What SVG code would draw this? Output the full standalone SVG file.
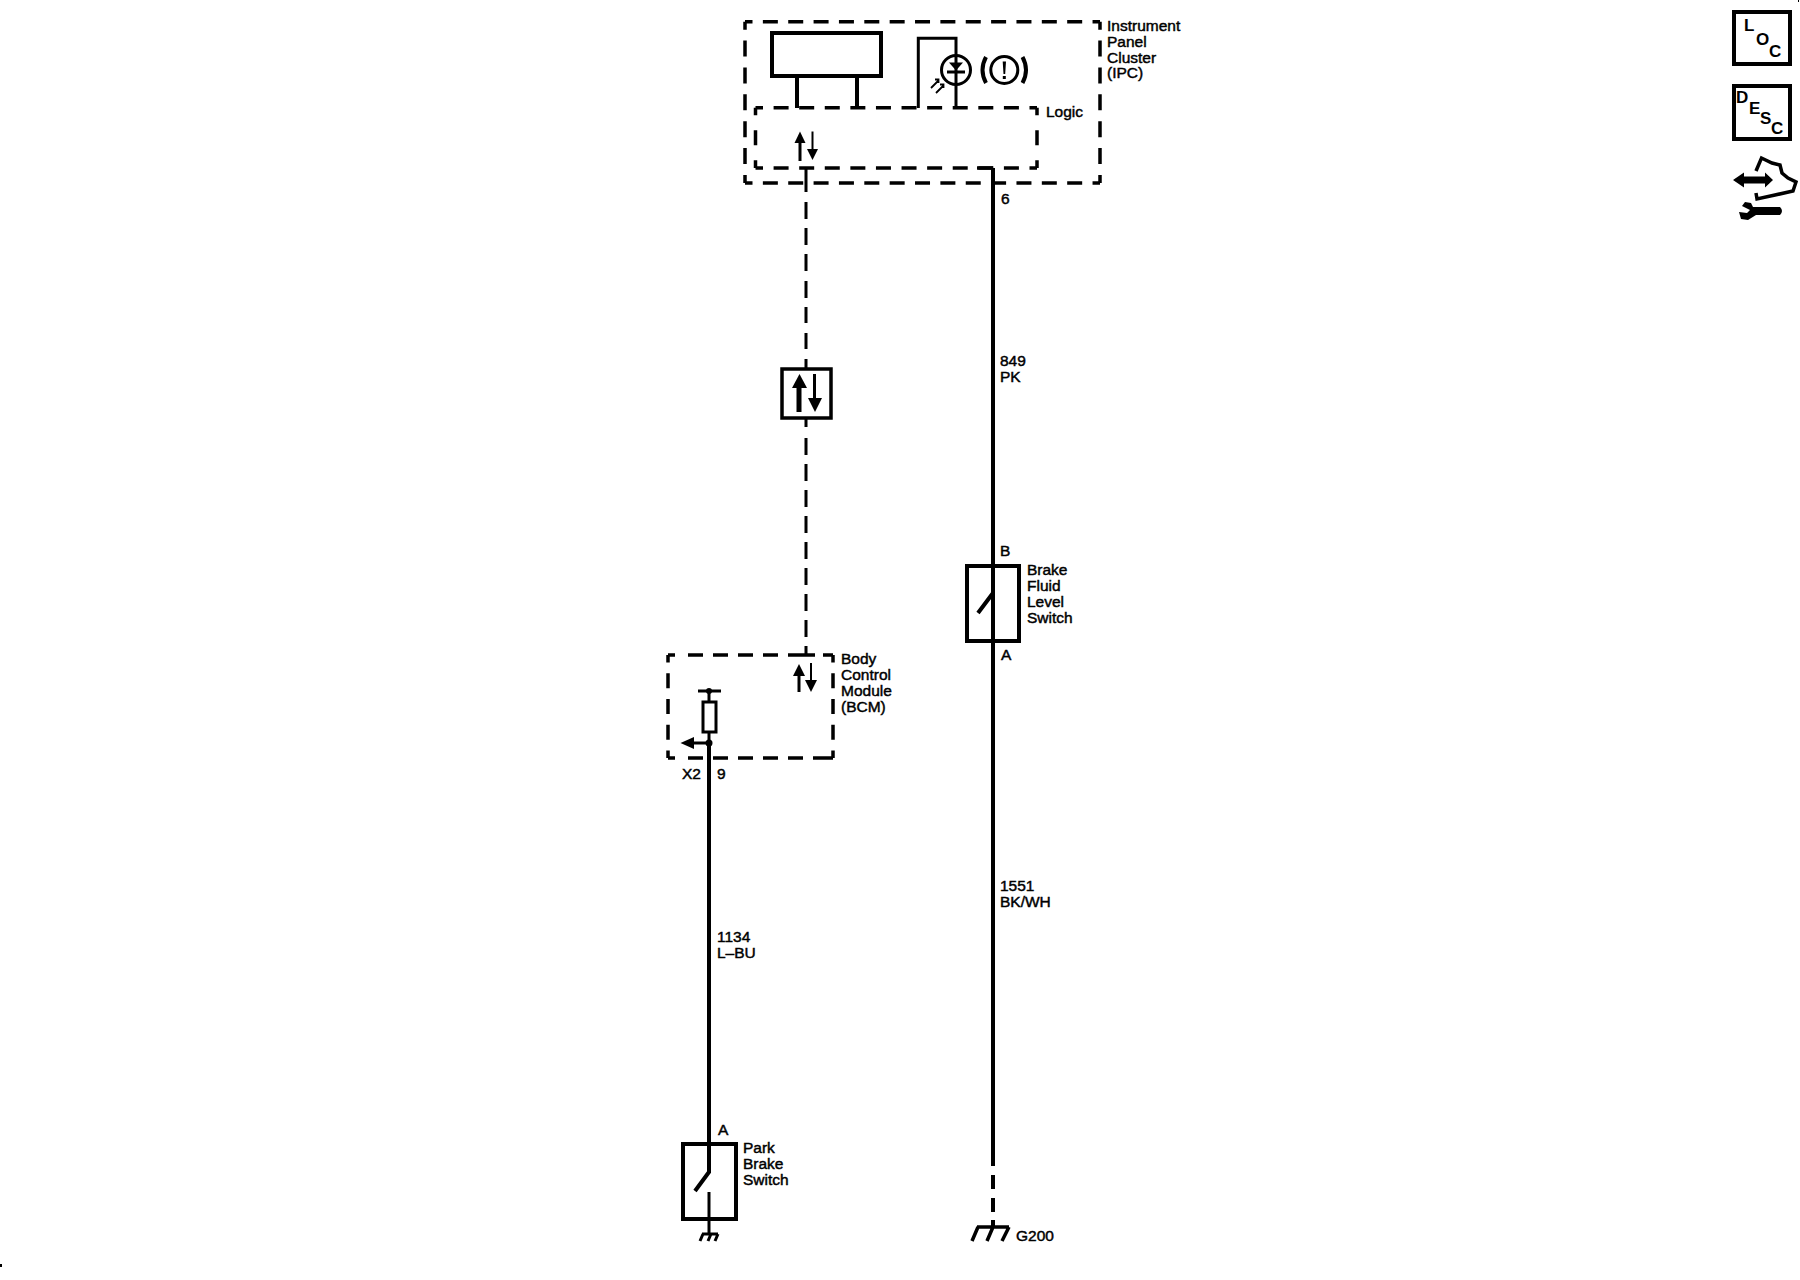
<svg xmlns="http://www.w3.org/2000/svg" width="1800" height="1280" viewBox="0 0 1800 1280">
<style>
text{font-family:"Liberation Sans",Arial,sans-serif;font-size:15.5px;fill:#000;stroke:#000;stroke-width:.45px}
.i{font-size:17px;font-weight:bold;stroke:none}
.w,.t,.d,.b,.f{fill:none;stroke:#000;stroke-linejoin:miter}
.w{stroke-width:4}
.t{stroke-width:3}
.d{stroke-width:3.500}
.b{stroke-width:4}
.k{fill:#000;stroke:none}
</style>
<rect width="1800" height="1280" fill="#fff"/>
<g id="connectors">
<path class="w" d="M993 168V1166"/>
<path class="w" d="M993 1175V1189M993 1198V1212M993 1220V1228"/>
<path class="d" d="M977 168H993"/>
<path class="t" d="M806 168V192M806 202V219M806 228V245M806 254V271M806 281V298M806 307V323M806 333V349M806 359V369"/>
<path class="t" d="M806 418V427M806 438V455M806 464V481M806 490V507M806 516V533M806 542V559M806 568V585M806 594V611M806 620V637M806 646V655"/>
<path class="w" d="M709 743V1143"/>
</g>
<g id="ipc">
<path class="d" stroke-dasharray="15 10.360" stroke-dashoffset="7.500" d="M745 21.700H1100M745 183H1100"/>
<path class="d" stroke-dasharray="16 10.880" stroke-dashoffset="8" d="M745 21.700V183M1100 21.700V183"/>
<rect class="b" x="772" y="33" width="109" height="43"/>
<path class="b" d="M797 76V108M857 76V108"/>
<path class="t" d="M918.300 108V38.300H956V108"/>
<circle class="f" cx="956" cy="70" r="14.500" stroke-width="3"/>
<path class="k" d="M949 62.500H963L956 70.500Z"/>
<path class="t" d="M947 72H965"/>
<g fill="none" stroke="#000" stroke-width="1.800"><path d="M931 88L938 81M936 93L943 86M935 79.500H938.500V83M940 84.500H943.500V88"/></g>
<circle class="f" cx="1004.300" cy="70" r="13.500" stroke-width="3"/>
<path class="k" d="M1002.700 61.500H1006L1005.200 74H1003.500ZM1002.800 76H1005.800V79H1002.800Z"/>
<path class="f" stroke-width="4" d="M986 57Q979 70 986 83M1022.500 57Q1029.500 70 1022.500 83"/>
<text x="1107" y="31">Instrument</text>
<text x="1107" y="47">Panel</text>
<text x="1107" y="63">Cluster</text>
<text x="1107" y="78">(IPC)</text>
</g>
<g id="logic">
<path class="d" stroke-dasharray="15 10.590" stroke-dashoffset="7.500" d="M755.500 107.700H1037M755.500 168H1037"/>
<path class="d" stroke-dasharray="15 15" stroke-dashoffset="7.500" d="M755.500 107.700V168M1037 107.700V168"/>
<path class="t" d="M800 161V140"/>
<path class="k" d="M800 131.500L805.500 143H794.500Z"/>
<path class="t" d="M812.500 131.500V152" style="stroke-width:2"/>
<path class="k" d="M812.500 160L807 149H818Z"/>
<text x="1046" y="117">Logic</text>
<text x="1001" y="204">6</text>
</g>
<g id="gateway">
<rect class="b" style="stroke-width:3.500" x="782" y="369" width="49" height="49"/>
<path class="w" style="stroke-width:5" d="M799 412V386"/>
<path class="k" d="M799.500 374L807 388H792Z"/>
<path class="t" d="M814.500 374V400"/>
<path class="k" d="M815 412L808 398H822Z"/>
</g>
<g id="bcm">
<path class="d" d="M668 655H675M688 655H703M713 655H728M738 655H753M763 655H778M788 655H815M823 655H833"/>
<path class="d" d="M668 758H675M688 758H703M713 758H728M738 758H753M763 758H778M788 758H803M813 758H833"/>
<path class="d" stroke-dasharray="15 10.750" stroke-dashoffset="7.500" d="M668 655V758M833 655V758"/>
<path class="t" d="M698 691H721M709 691V703M709 732V743"/>
<circle class="k" cx="709" cy="691" r="3"/>
<rect class="t" x="703" y="702" width="13" height="30"/>
<circle class="k" cx="709" cy="743" r="3.500"/>
<path class="t" d="M709 743H690"/>
<path class="k" d="M680.500 743L694 737V749Z"/>
<path class="t" d="M799 692V672"/>
<path class="k" d="M799 664L805 676H793Z"/>
<path class="t" d="M811 663V683" style="stroke-width:2"/>
<path class="k" d="M811 692L805 680H817Z"/>
<text x="841" y="664">Body</text>
<text x="841" y="680">Control</text>
<text x="841" y="696">Module</text>
<text x="841" y="712">(BCM)</text>
<text x="682" y="779">X2</text>
<text x="717" y="779">9</text>
</g>
<g id="wire-labels">
<text x="1000" y="366">849</text>
<text x="1000" y="382">PK</text>
<text x="1000" y="891">1551</text>
<text x="1000" y="907">BK/WH</text>
<text x="717" y="942">1134</text>
<text x="717" y="958">L–BU</text>
</g>
<g id="brake-switch">
<rect class="b" x="967" y="566" width="52" height="75"/>
<path class="w" d="M993 530V593L978 613M993 614V660"/>
<text x="1000" y="556">B</text>
<text x="1001" y="660">A</text>
<text x="1027" y="575">Brake</text>
<text x="1027" y="591">Fluid</text>
<text x="1027" y="607">Level</text>
<text x="1027" y="623">Switch</text>
</g>
<g id="park-switch">
<rect class="b" x="683" y="1144" width="53" height="75"/>
<path class="w" d="M709 1140V1172L695 1191"/>
<path class="t" d="M709 1192V1234"/>
<path class="t" d="M702 1234H718M703 1234L700 1241M711 1234L708 1241M718 1234L715 1241"/>
<text x="718" y="1135">A</text>
<text x="743" y="1153">Park</text>
<text x="743" y="1169">Brake</text>
<text x="743" y="1185">Switch</text>
</g>
<g id="g200">
<path class="w" style="stroke-width:3.500" d="M977 1227H1009M978 1227L972 1241M993 1227L987 1241M1009 1227L1002 1241"/>
<text x="1016" y="1241">G200</text>
</g>
<g id="loc">
<rect class="b" x="1734" y="12" width="56" height="52"/>
<text class="i" x="1744" y="31">L</text>
<text class="i" x="1756" y="45">O</text>
<text class="i" x="1769" y="57">C</text>
</g>
<g id="desc">
<rect class="b" x="1734" y="86" width="56" height="53"/>
<text class="i" x="1736" y="103">D</text>
<text class="i" x="1749" y="114">E</text>
<text class="i" x="1760" y="124">S</text>
<text class="i" x="1771" y="134">C</text>
</g>
<g id="service-icon">
<path class="f" stroke-width="3.500" d="M1756 171L1761.500 158L1772 163L1780 165L1782 173L1788 178L1796 182L1793 191L1775 195L1757 199L1756 193"/>
<path class="k" d="M1733 180L1744 172.500V176.500H1765V172.500L1773 180L1765 187.500V183.500H1744V187.500Z"/>
<path class="k" d="M1753 207H1780Q1784 211 1780 215H1756L1748 220L1741 219L1739 212L1747 213L1750 210L1742 206L1745 202L1751 203Z"/>
</g>
<rect class="k" x="0" y="1264" width="2" height="3"/>
<rect class="k" x="1798" y="0" width="1" height="2"/>
</svg>
